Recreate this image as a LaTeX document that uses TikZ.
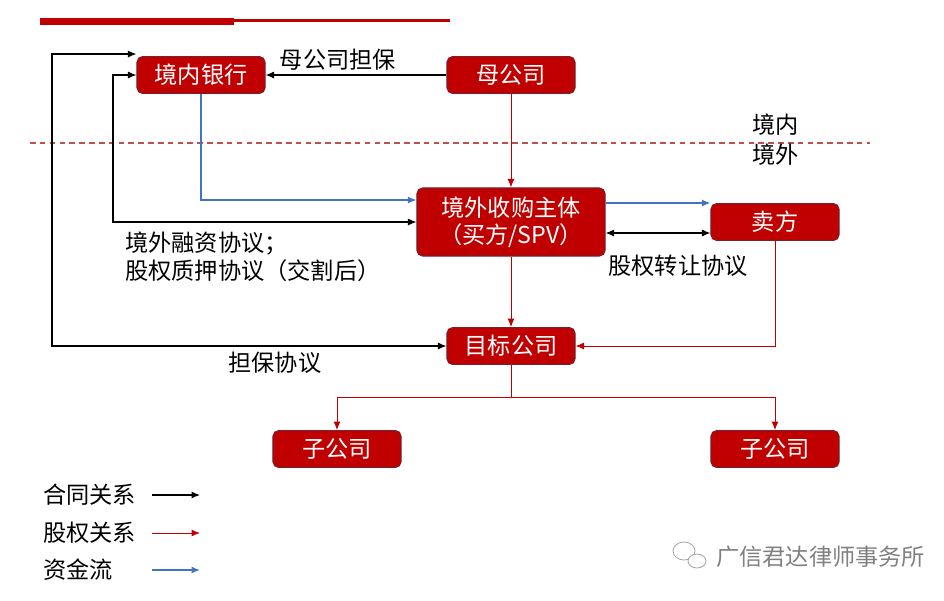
\documentclass[tikz,border=0pt]{standalone}
\usepackage{fontspec}
\setmainfont{Noto Sans CJK SC}
\usetikzlibrary{positioning,calc,arrows.meta}
\definecolor{boxred}{HTML}{C00000}
\definecolor{boxedge}{HTML}{7A1F2B}
\definecolor{eqred}{HTML}{C00000}
\definecolor{flowblue}{HTML}{4472C4}
\definecolor{dashred}{HTML}{C0504D}

\begin{document}
\begin{tikzpicture}[x=0.025cm, y=-0.025cm, auto, >={Latex[length=6pt,width=5pt]},
    box/.style={draw=boxedge, line width=0.8pt, fill=boxred, rounded corners=4pt, text=white,
        minimum width=3.2cm, minimum height=0.92cm, inner sep=0pt, font=\fontsize{16.5}{19.5}\selectfont},
    lbl/.style={font=\fontsize{16.5}{19.5}\selectfont, inner sep=0pt},
    ctr/.style={draw=black, line width=0.8pt, ->},
    eq/.style={draw=eqred, line width=0.7pt, ->},
    flow/.style={draw=flowblue, line width=1pt, ->}]

    \useasboundingbox (0,0) rectangle (944,600);

    % Title bar
    \fill[boxred] (40,18) rectangle (234,25);
    \fill[boxred] (234,19) rectangle (450,22);

    % Border
    \draw[dashred, line width=0.8pt, dash pattern=on 4pt off 3pt] (30,143) -- (870,143);
    \node[lbl, anchor=west] (inLbl) at (752,125) {境内};
    \node[lbl, anchor=west] (outLbl) at (752,155) {境外};

    % Parties
    \node[box] (bank) at (201,75) {境内银行};
    \node[box] (parent) at (511,75) {母公司};
    \node[box, minimum width=4.7cm, minimum height=1.7cm, align=center] (spv) at (511,222) {境外收购主体\\（买方/SPV）};
    \node[box] (seller) at (775,222) {卖方};
    \node[box] (target) at (511,346) {目标公司};
    \node[box] (subL) at (337,449) {子公司};
    \node[box] (subR) at (775,449) {子公司};

    % Contracts
    \draw[ctr] (parent) -- node[lbl, above=3pt, pos=0.6] (guarLbl) {母公司担保} (bank);
    \coordinate (gL) at (52,346);
    \draw[ctr, <->] ($(bank.north west)+(0,-2)$) -| (gL) -- node[lbl, below=4pt, pos=0.565] (guarAgr) {担保协议} (target.west);
    \coordinate (fL) at (113,222);
    \draw[ctr, <->] (bank.west) -| (fL) -- (spv.west);
    \node[lbl, anchor=north west, align=left] (finLbl) at (125,232) {境外融资协议；\\股权质押协议（交割后）};
    \draw[ctr, <->] ($(spv.east)+(0,11)$) -- ($(seller.west)+(0,11)$);
    \node[lbl] (transLbl) at (678,266) {股权转让协议};

    % Money flow
    \draw[flow] (bank.south) |- ($(spv.west)+(0,-22)$);
    \draw[flow] ($(spv.east)+(0,-19)$) -- ($(seller.west)+(0,-19)$);

    % Equity
    \draw[eq] (parent) -- (spv);
    \draw[eq] (spv) -- (target);
    \draw[eq] (seller.south) |- (target.east);
    \coordinate (split) at (511,397);
    \draw[eq, -] (target) -- (split);
    \draw[eq] (split) -| (subL.north);
    \draw[eq] (split) -| (subR.north);

    % Legend
    \node[lbl, anchor=west] (lgCtr) at (43,495) {合同关系};
    \node[lbl, anchor=west] (lgEq) at (43,533) {股权关系};
    \node[lbl, anchor=west] (lgFlow) at (43,570) {资金流};
    \draw[ctr] ($(lgCtr.west)+(109,0)$) -- ++(48,0);
    \draw[eq] ($(lgEq.west)+(109,0)$) -- ++(48,0);
    \draw[flow] ($(lgFlow.west)+(109,0)$) -- ++(48,0);

    % Mark
    \draw[gray!70, line width=0.6pt] (684,551) ellipse [x radius=11, y radius=9];
    \draw[gray!70, line width=0.6pt, fill=white] (697,561) ellipse [x radius=9, y radius=7];
    \node[lbl, anchor=west, text=gray] (mark) at (716,557) {广信君达律师事务所};
\end{tikzpicture}
\end{document}
